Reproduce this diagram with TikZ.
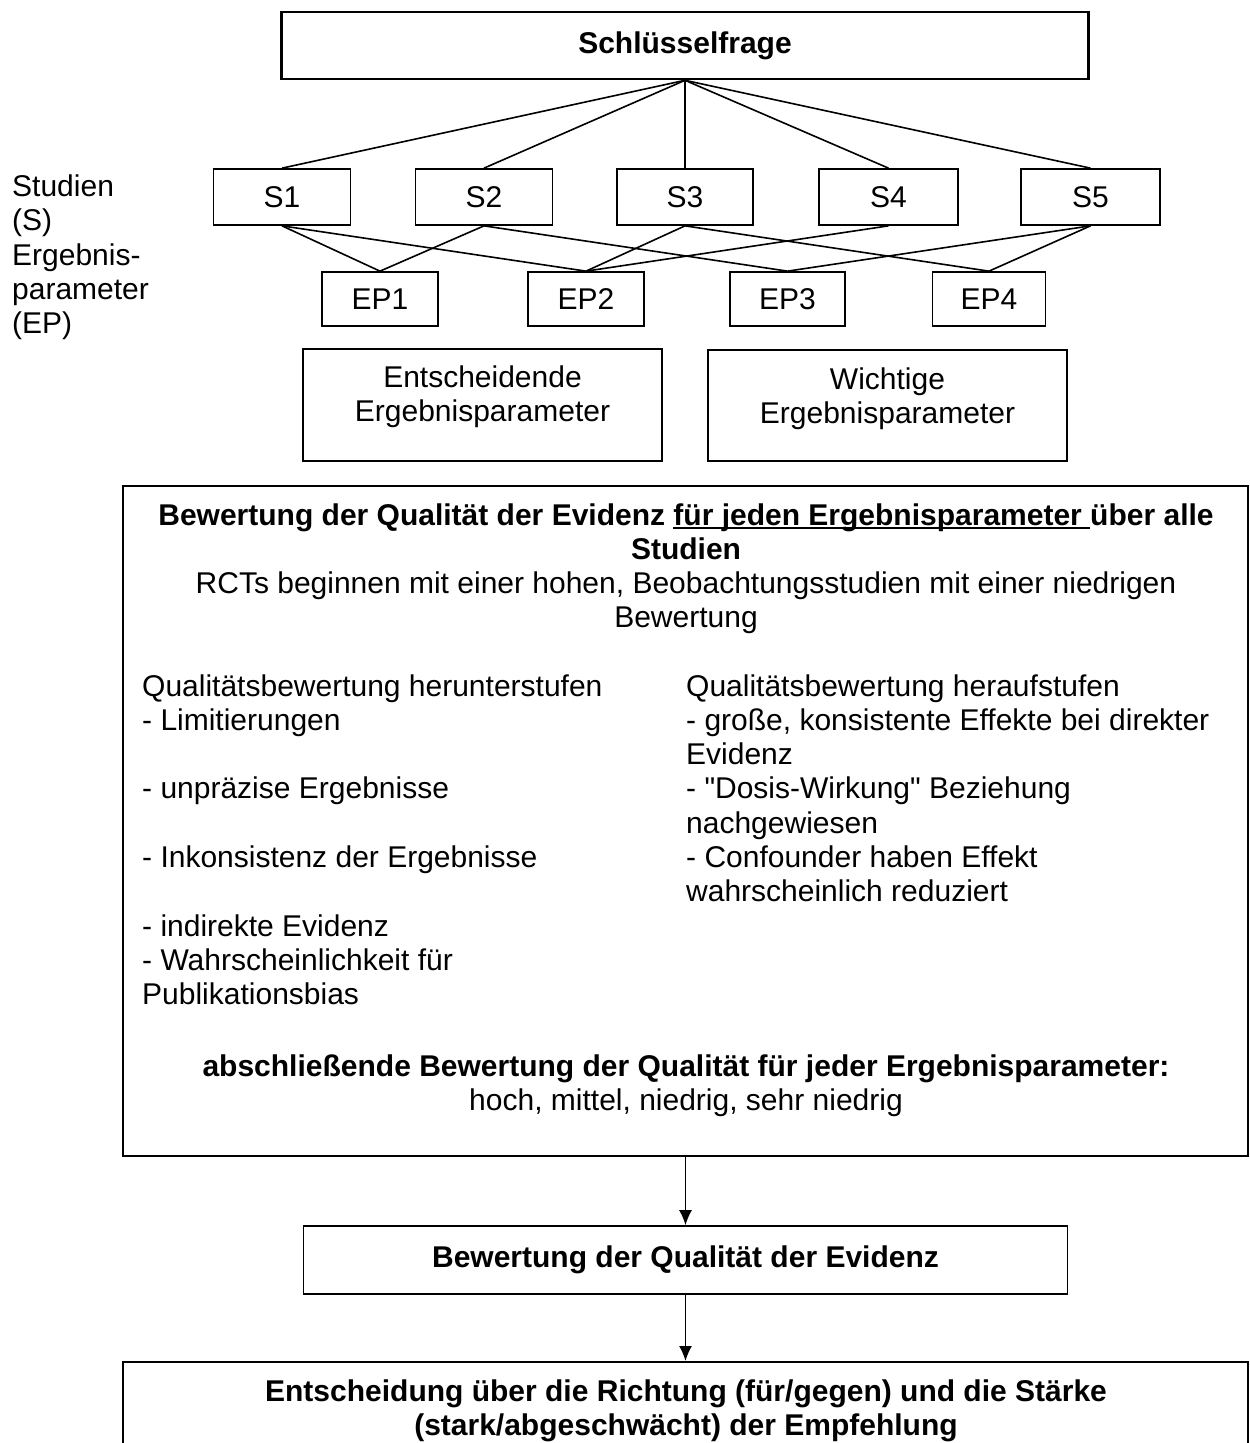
\documentclass[tikz,border=0pt]{standalone}
\usepackage{fontspec}
\setmainfont{Liberation Sans}[Ligatures=TeXOff]
\usetikzlibrary{arrows.meta}
\newcommand\ulpart[1]{\setbox0=\hbox{#1}\rlap{\rule[-3.6pt]{\wd0}{2pt}}\box0}
\begin{document}
\begin{tikzpicture}[x=1pt,y=-1pt,
  every node/.style={inner sep=0pt, font=\fontsize{30pt}{34.3pt}\selectfont},
  bold/.style={font=\fontsize{30pt}{34.3pt}\selectfont\bfseries},
  box/.style={draw, line width=1.7pt},
  conn/.style={line width=1.6pt},
  arr/.style={line width=1.6pt, -{Latex[length=15pt,width=13pt]}},
  tl/.style={anchor=base west},
  tc/.style={anchor=base}
]
\useasboundingbox (0,0) rectangle (1250,1443);

% key question
\node[box, bold, line width=2.6pt, minimum width=807pt, minimum height=67pt] (key) at (685,45.5) {Schlüsselfrage};

% studies
\node[box, minimum width=137pt, minimum height=56pt] (s1) at (282,197) {S1};
\node[box, minimum width=137pt, minimum height=56pt] (s2) at (484,197) {S2};
\node[box, minimum width=136pt, minimum height=56pt] (s3) at (685,197) {S3};
\node[box, minimum width=139pt, minimum height=56pt] (s4) at (888.5,197) {S4};
\node[box, minimum width=139pt, minimum height=56pt] (s5) at (1090.5,197) {S5};

% outcome parameters
\node[box, minimum width=116pt, minimum height=54pt] (ep1) at (380,299) {EP1};
\node[box, minimum width=116pt, minimum height=54pt] (ep2) at (586,299) {EP2};
\node[box, minimum width=115pt, minimum height=54pt] (ep3) at (787.5,299) {EP3};
\node[box, minimum width=113pt, minimum height=54pt] (ep4) at (989,299) {EP4};

% connectors key -> studies
\foreach \s in {s1,s2,s3,s4,s5} \draw[conn] (key.south) -- (\s.north);

% connectors studies -> outcome parameters
\draw[conn] (s1.south) -- (ep1.north);
\draw[conn] (s1.south) -- (ep2.north);
\draw[conn] (s2.south) -- (ep1.north);
\draw[conn] (s2.south) -- (ep3.north);
\draw[conn] (s3.south) -- (ep2.north);
\draw[conn] (s3.south) -- (ep4.north);
\draw[conn] (s4.south) -- (ep2.north);
\draw[conn] (s5.south) -- (ep3.north);
\draw[conn] (s5.south) -- (ep4.north);

% left labels
\node[tl] (lab1) at (12,196) {Studien};
\node[tl] (lab2) at (12,230) {(S)};
\node[tl] (lab3) at (12,265) {Ergebnis-};
\node[tl] (lab4) at (12,299) {parameter};
\node[tl] (lab5) at (12,333) {(EP)};

% critical / important
\node[box, minimum width=359pt, minimum height=112pt] (crit) at (482.5,405) {};
\node[tc] (crit1) at (482.5,387) {Entscheidende};
\node[tc] (crit2) at (482.5,421) {Ergebnisparameter};
\node[box, minimum width=359pt, minimum height=111pt] (imp) at (887.5,405.5) {};
\node[tc] (imp1) at (887.5,389) {Wichtige};
\node[tc] (imp2) at (887.5,423) {Ergebnisparameter};

% evaluation box
\node[box, minimum width=1125pt, minimum height=670pt] (eval) at (685.5,821) {};
\node[tc, bold] (h1) at (686,525) {Bewertung der Qualität der Evidenz \ulpart{für jeden Ergebnisparameter }über alle};
\node[tc, bold] (h2) at (686,559) {Studien};
\node[tc] (h3) at (686,593) {RCTs beginnen mit einer hohen, Beobachtungsstudien mit einer niedrigen};
\node[tc] (h4) at (686,627) {Bewertung};

\node[tl] (l1) at (142,696) {Qualitätsbewertung herunterstufen};
\node[tl] (l2) at (142,730.3) {- Limitierungen};
\node[tl] (l3) at (142,798.9) {- unpräzise Ergebnisse};
\node[tl] (l4) at (142,867.5) {- Inkonsistenz der Ergebnisse};
\node[tl] (l5) at (142,936.1) {- indirekte Evidenz};
\node[tl] (l6) at (142,970.4) {- Wahrscheinlichkeit für};
\node[tl] (l7) at (142,1004.7) {Publikationsbias};

\node[tl] (r1) at (686,696) {Qualitätsbewertung heraufstufen};
\node[tl] (r2) at (686,730.3) {- große, konsistente Effekte bei direkter};
\node[tl] (r3) at (686,764.6) {Evidenz};
\node[tl] (r4) at (686,798.9) {- "Dosis-Wirkung" Beziehung};
\node[tl] (r5) at (686,833.2) {nachgewiesen};
\node[tl] (r6) at (686,867.5) {- Confounder haben Effekt};
\node[tl] (r7) at (686,901.8) {wahrscheinlich reduziert};

\node[tc, bold] (f1) at (686,1076) {abschließende Bewertung der Qualität für jeder Ergebnisparameter:};
\node[tc] (f2) at (686,1110) {hoch, mittel, niedrig, sehr niedrig};

% overall quality
\node[box, bold, minimum width=764pt, minimum height=68pt] (qual) at (685.5,1260) {Bewertung der Qualität der Evidenz};

% decision
\node[box, minimum width=1125pt, minimum height=140pt, anchor=north] (dec) at (685.5,1361) {};
\node[tc, bold] (d1) at (686,1401) {Entscheidung über die Richtung (für/gegen) und die Stärke};
\node[tc, bold] (d2) at (686,1435) {(stark/abgeschwächt) der Empfehlung};

\draw[arr] (eval.south) -- (qual.north);
\draw[arr] (qual.south) -- (dec.north);
\end{tikzpicture}
\end{document}
